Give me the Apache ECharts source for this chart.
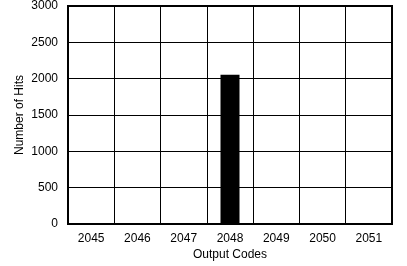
<!DOCTYPE html>
<html>
<head>
<meta charset="utf-8">
<script src="https://cdn.jsdelivr.net/npm/echarts@6/dist/echarts.min.js"></script>
<style>
html,body{margin:0;padding:0;background:#fff;}
#chart{width:407px;height:266px;}
</style>
</head>
<body>
<div id="chart"></div>
<script>
const categories = ['2045','2046','2047','2048','2049','2050','2051'];
const hits = [0, 0, 0, 2055, 0, 0, 0];
const yTicks = [0, 500, 1000, 1500, 2000, 2500, 3000];

const chart = echarts.init(document.getElementById('chart'), null, {renderer:'canvas'});
const font = '"Liberation Sans", Arial, Helvetica, sans-serif';
chart.setOption({
  animation: false,
  backgroundColor: '#fff',
  grid: {left: 68, right: 15, top: 5, bottom: 42, show: true, borderColor: '#000', borderWidth: 2, backgroundColor: 'transparent'},
  xAxis: {
    type: 'category',
    data: categories,
    name: 'Output Codes',
    nameLocation: 'middle',
    nameGap: 25,
    nameMoveOverlap: false,
    nameTextStyle: {color: '#000', fontSize: 12, fontFamily: font},
    axisLine: {show: true, lineStyle: {color: '#000', width: 2}},
    axisTick: {show: false},
    axisLabel: {color: '#000', fontSize: 12, fontFamily: font, margin: 9},
    splitLine: {show: true, lineStyle: {color: '#000', width: 1}}
  },
  yAxis: {
    type: 'value',
    min: yTicks[0],
    max: yTicks[yTicks.length - 1],
    interval: 500,
    name: 'Number of Hits',
    nameLocation: 'middle',
    nameGap: 42,
    nameMoveOverlap: false,
    nameTextStyle: {color: '#000', fontSize: 12, fontFamily: font},
    axisLine: {show: true, lineStyle: {color: '#000', width: 2}},
    axisTick: {show: false},
    axisLabel: {color: '#000', fontSize: 12, fontFamily: font, margin: 10, formatter: v => String(v)},
    splitLine: {show: true, lineStyle: {color: '#000', width: 1}}
  },
  series: [{
    type: 'bar',
    data: hits,
    barWidth: 19,
    itemStyle: {color: '#000'}
  }]
});
</script>
</body>
</html>
